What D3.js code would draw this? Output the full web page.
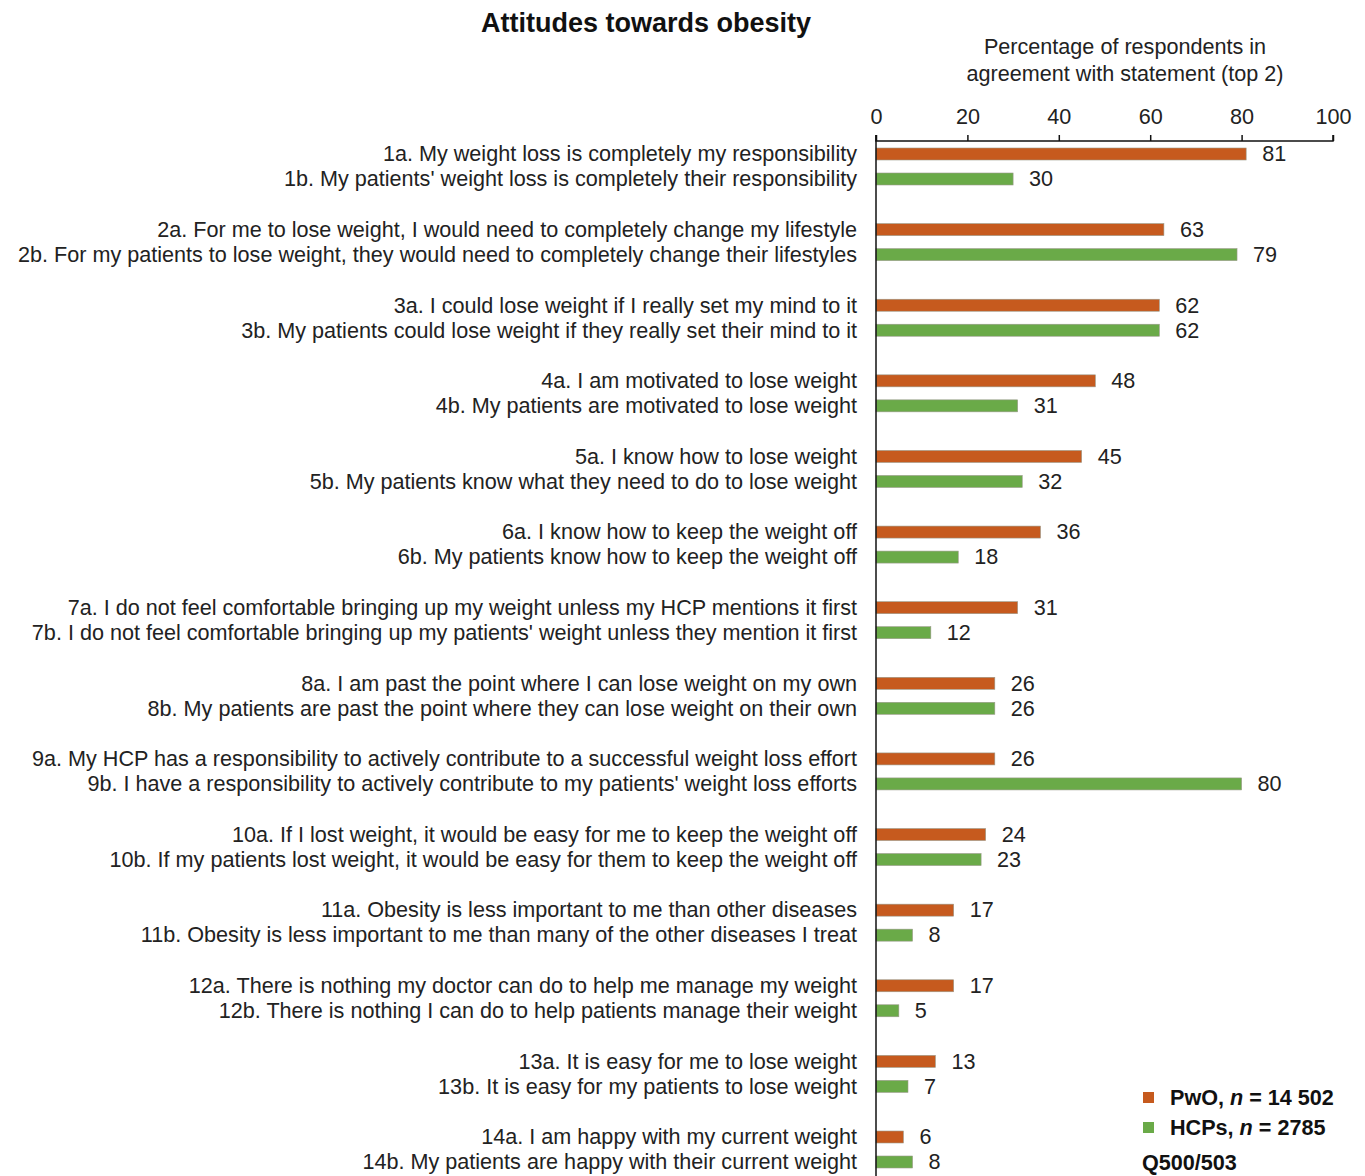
<!DOCTYPE html>
<html><head><meta charset="utf-8">
<script src="https://cdn.jsdelivr.net/npm/d3@7"></script>
<style>body{margin:0;background:#fff}svg{display:block;font-family:"Liberation Sans",Arial,sans-serif}</style>
</head><body>
<script>
const labelsA = [
"1a. My weight loss is completely my responsibility",
"2a. For me to lose weight, I would need to completely change my lifestyle",
"3a. I could lose weight if I really set my mind to it",
"4a. I am motivated to lose weight",
"5a. I know how to lose weight",
"6a. I know how to keep the weight off",
"7a. I do not feel comfortable bringing up my weight unless my HCP mentions it first",
"8a. I am past the point where I can lose weight on my own",
"9a. My HCP has a responsibility to actively contribute to a successful weight loss effort",
"10a. If I lost weight, it would be easy for me to keep the weight off",
"11a. Obesity is less important to me than other diseases",
"12a. There is nothing my doctor can do to help me manage my weight",
"13a. It is easy for me to lose weight",
"14a. I am happy with my current weight"];
const labelsB = [
"1b. My patients' weight loss is completely their responsibility",
"2b. For my patients to lose weight, they would need to completely change their lifestyles",
"3b. My patients could lose weight if they really set their mind to it",
"4b. My patients are motivated to lose weight",
"5b. My patients know what they need to do to lose weight",
"6b. My patients know how to keep the weight off",
"7b. I do not feel comfortable bringing up my patients' weight unless they mention it first",
"8b. My patients are past the point where they can lose weight on their own",
"9b. I have a responsibility to actively contribute to my patients' weight loss efforts",
"10b. If my patients lost weight, it would be easy for them to keep the weight off",
"11b. Obesity is less important to me than many of the other diseases I treat",
"12b. There is nothing I can do to help patients manage their weight",
"13b. It is easy for my patients to lose weight",
"14b. My patients are happy with their current weight"];
const pwo = [81,63,62,48,45,36,31,26,26,24,17,17,13,6];
const hcp = [30,79,62,31,32,18,12,26,80,23,8,5,7,8];
const ticks = [0,20,40,60,80,100];
const seriesNames = ["PwO", "HCPs"];
const seriesN = ["14 502", "2785"];

const W=1365,H=1176, FS=21.6;
const orange="#C65A1E", green="#6AAA48";
const svg=d3.select("body").append("svg").attr("width",W).attr("height",H);
const x=d3.scaleLinear().domain([0,100]).range([876,1333]);
const yg=d3.scaleLinear().domain([0,13]).range([154,1137]);
const off=25, bh=12;

svg.append("text").attr("x",646).attr("y",32).attr("text-anchor","middle")
  .attr("font-size",27).attr("font-weight","bold").attr("fill","#111").text("Attitudes towards obesity");
svg.append("text").attr("x",1125).attr("y",54).attr("text-anchor","middle").attr("font-size",FS).attr("fill","#222").text("Percentage of respondents in");
svg.append("text").attr("x",1125).attr("y",81).attr("text-anchor","middle").attr("font-size",FS).attr("fill","#222").text("agreement with statement (top 2)");

const ax=svg.append("g").attr("transform","translate(0,141)")
  .call(d3.axisTop(x).tickValues(ticks).tickSize(6).tickPadding(11).tickFormat(d3.format("d")));
ax.select(".domain").attr("stroke","#111").attr("stroke-width",1.5).attr("d","M876,-6V0H1333V-6");
ax.selectAll(".tick line").attr("stroke","#111").attr("stroke-width",1.5);
ax.selectAll(".tick text").attr("font-size",FS).attr("fill","#222").attr("font-family","Liberation Sans, Arial, sans-serif");

const rows=[];
pwo.forEach((v,i)=>rows.push({v,lab:labelsA[i],y:yg(i),c:orange}));
hcp.forEach((v,i)=>rows.push({v,lab:labelsB[i],y:yg(i)+off,c:green}));

svg.selectAll("rect.bar").data(rows).enter().append("rect").attr("class","bar")
  .attr("x",x(0)).attr("y",d=>d.y-bh/2).attr("width",d=>x(d.v)-x(0)).attr("height",bh)
  .attr("fill",d=>d.c).attr("stroke","#9a9a8a").attr("stroke-width",0.6);
svg.selectAll("text.val").data(rows).enter().append("text").attr("class","val")
  .attr("x",d=>x(d.v)+16).attr("y",d=>d.y).attr("dy","0.34em").attr("font-size",FS).attr("fill","#222").text(d=>d.v);
svg.selectAll("text.lab").data(rows).enter().append("text").attr("class","lab")
  .attr("x",857).attr("y",d=>d.y).attr("dy","0.34em").attr("text-anchor","end").attr("font-size",FS).attr("fill","#222").text(d=>d.lab);

svg.append("line").attr("x1",x(0)).attr("x2",x(0)).attr("y1",135).attr("y2",H).attr("stroke","#111").attr("stroke-width",1.5);

const lg=svg.append("g");
[orange,green].forEach((c,i)=>{
  lg.append("rect").attr("x",1143).attr("y",1092+i*30).attr("width",11).attr("height",11).attr("fill",c);
  const t=lg.append("text").attr("x",1170).attr("y",1105+i*30).attr("font-size",FS).attr("font-weight","bold").attr("fill","#111");
  t.append("tspan").text(seriesNames[i]+", ");
  t.append("tspan").attr("font-style","italic").text("n");
  t.append("tspan").text(" = "+seriesN[i]);
});
svg.append("text").attr("x",1142).attr("y",1170).attr("font-size",FS).attr("font-weight","bold").attr("fill","#111").text("Q500/503");
</script>
</body></html>
